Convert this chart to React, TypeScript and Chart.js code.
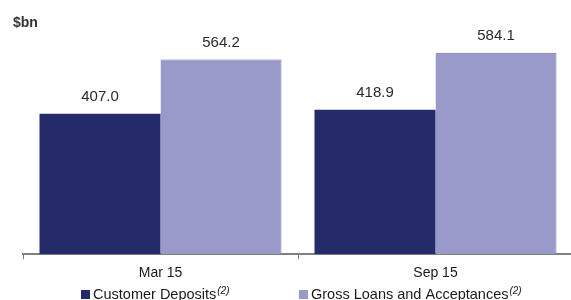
import React, { useEffect, useRef } from "react";
import { Chart, registerables } from "chart.js";

Chart.register(...registerables);

const categories = ["Mar 15", "Sep 15"];
const customerDeposits = [407.0, 418.9];
const grossLoans = [564.2, 584.1];
const seriesNames = ["Customer Deposits", "Gross Loans and Acceptances"];
const footnote = "(2)";
const unitLabel = "$bn";

const DARK = "#252a6b";
const LIGHT = "#9a9aca";
const FONT = "'Liberation Sans', Arial, sans-serif";

const overlayPlugin = {
  id: "overlay",
  afterDatasetsDraw(chart: any) {
    const ctx = chart.ctx;
    ctx.save();
    // value labels
    ctx.font = `15px ${FONT}`;
    ctx.fillStyle = "#2a2a2a";
    ctx.textAlign = "center";
    ctx.textBaseline = "alphabetic";
    chart.data.datasets.forEach((ds: any, i: number) => {
      const meta = chart.getDatasetMeta(i);
      meta.data.forEach((bar: any, j: number) => {
        ctx.fillText(Number(ds.data[j]).toFixed(1), bar.x, bar.y - 13);
      });
    });
    // unit label
    ctx.textAlign = "left";
    ctx.font = `bold 14px ${FONT}`;
    ctx.fillStyle = "#333333";
    ctx.fillText(unitLabel, 13, 27);
    // legend
    const items = [
      { name: seriesNames[0], color: DARK, x: 81 },
      { name: seriesNames[1], color: LIGHT, x: 299 },
    ];
    items.forEach((it) => {
      ctx.fillStyle = it.color;
      ctx.fillRect(it.x, 290, 9, 9);
      ctx.fillStyle = "#1a1a1a";
      ctx.font = `14.5px ${FONT}`;
      const tx = it.x + 12;
      ctx.fillText(it.name, tx, 299);
      const w = ctx.measureText(it.name).width;
      ctx.font = `italic 10px ${FONT}`;
      ctx.fillText(footnote, tx + w + 1, 294);
    });
    ctx.restore();
  },
};

export default function App() {
  const ref = useRef<HTMLCanvasElement>(null);
  useEffect(() => {
    if (!ref.current) return;
    const chart = new Chart(ref.current, {
      type: "bar",
      data: {
        labels: categories,
        datasets: [
          {
            label: seriesNames[0],
            data: customerDeposits,
            backgroundColor: DARK,
            borderWidth: 0,
            categoryPercentage: 0.88,
            barPercentage: 1,
          },
          {
            label: seriesNames[1],
            data: grossLoans,
            backgroundColor: LIGHT,
            borderColor: "#7373b2",
            borderWidth: { top: 1, right: 1, left: 0, bottom: 0 },
            borderSkipped: "bottom",
            categoryPercentage: 0.88,
            barPercentage: 1,
          },
        ],
      },
      options: {
        responsive: false,
        animation: false,
        layout: { padding: { left: 23, right: 0, top: 30, bottom: 12 } },
        plugins: {
          legend: { display: false },
          tooltip: { enabled: false },
          title: { display: false },
        },
        scales: {
          y: { display: false, min: 0, max: 650 },
          x: {
            offset: true,
            grid: {
              display: true,
              offset: true,
              drawOnChartArea: false,
              drawTicks: true,
              tickLength: 5,
              color: "#808080",
              lineWidth: 1,
            },
            border: { display: true, color: "#808080", width: 2 },
            ticks: {
              color: "#1a1a1a",
              font: { family: FONT, size: 14 },
              padding: 6,
            },
          },
        },
      },
      plugins: [overlayPlugin],
    });
    return () => chart.destroy();
  }, []);
  return (
    <div style={{ position: "absolute", left: 0, top: 0, width: 571, height: 300, overflow: "hidden", background: "#fff" }}>
      <canvas ref={ref} width={573} height={300} style={{ display: "block" }} />
    </div>
  );
}
